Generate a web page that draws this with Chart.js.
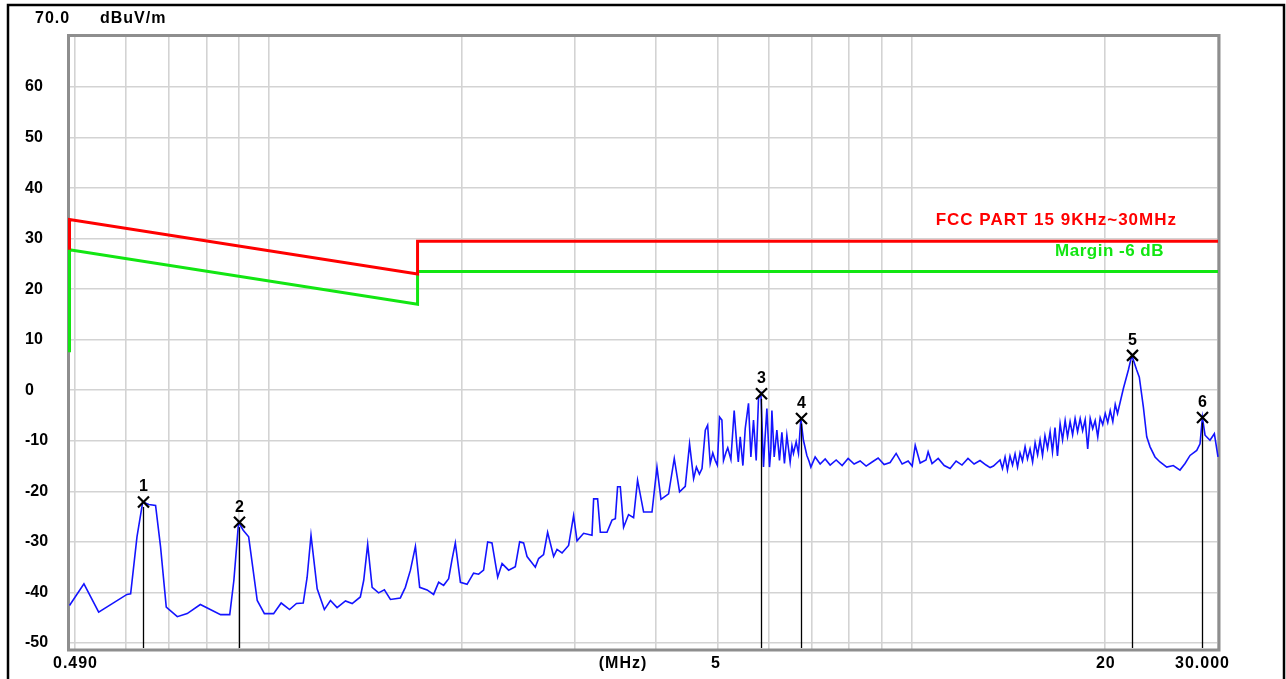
<!DOCTYPE html>
<html>
<head>
<meta charset="utf-8">
<script src="https://cdn.jsdelivr.net/npm/chart.js@4.4.1/dist/chart.umd.min.js"></script>
<style>
  html, body { margin: 0; padding: 0; background: #fff; overflow: hidden; }
  canvas { display: block; }
</style>
</head>
<body>
<canvas id="emi" width="1286" height="679"></canvas>
<script>
// Measured emission trace, frequency in MHz and level in dBuV/m
const freqMHz = [
  0.490, 0.516, 0.544, 0.602, 0.610, 0.624, 0.637, 0.651, 0.667, 0.679,
  0.693, 0.721, 0.747, 0.783, 0.842, 0.870, 0.883, 0.898, 0.913, 0.931,
  0.960, 0.985, 1.018, 1.046, 1.078, 1.105, 1.132, 1.148, 1.164, 1.190,
  1.221, 1.248, 1.278, 1.317, 1.349, 1.389, 1.406, 1.426, 1.449, 1.483,
  1.514, 1.547, 1.603, 1.632, 1.662, 1.692, 1.718, 1.764, 1.806, 1.839,
  1.872, 1.906, 1.929, 1.952, 1.988, 2.036, 2.084, 2.122, 2.160, 2.192,
  2.226, 2.272, 2.308, 2.363, 2.420, 2.458, 2.493, 2.524, 2.600, 2.631,
  2.678, 2.717, 2.776, 2.810, 2.861, 2.929, 2.982, 3.019, 3.091, 3.185,
  3.204, 3.250, 3.282, 3.361, 3.422, 3.463, 3.491, 3.525, 3.567, 3.631,
  3.697, 3.750, 3.832, 3.949, 4.020, 4.078, 4.191, 4.277, 4.359, 4.449,
  4.518, 4.584, 4.630, 4.680, 4.724, 4.780, 4.820, 4.865, 4.910, 4.953,
  4.990, 5.030, 5.073, 5.102, 5.150, 5.180, 5.239, 5.301, 5.353, 5.380,
  5.417, 5.469, 5.515, 5.580, 5.628, 5.681, 5.736, 5.784, 5.834, 5.888,
  5.920, 5.960, 6.016, 6.045, 6.068, 6.118, 6.177, 6.235, 6.289, 6.347,
  6.402, 6.478, 6.520, 6.555, 6.619, 6.674, 6.731, 6.794, 6.878, 6.930,
  6.977, 7.085, 7.213, 7.344, 7.476, 7.639, 7.805, 7.974, 8.147, 8.324,
  8.505, 8.690, 8.878, 9.071, 9.268, 9.470, 9.676, 9.886, 10.03, 10.14,
  10.32, 10.54, 10.62, 10.77, 11.01, 11.25, 11.49, 11.74, 11.99, 12.25,
  12.52, 12.79, 13.07, 13.26, 13.42, 13.74, 13.86, 13.99, 14.11, 14.24,
  14.37, 14.50, 14.63, 14.76, 14.89, 15.03, 15.16, 15.30, 15.44, 15.58,
  15.72, 15.86, 16.00, 16.14, 16.29, 16.44, 16.58, 16.73, 16.88, 17.04,
  17.19, 17.35, 17.50, 17.66, 17.82, 17.98, 18.14, 18.31, 18.47, 18.64,
  18.81, 18.98, 19.15, 19.32, 19.50, 19.67, 19.85, 20.03, 20.21, 20.39,
  20.58, 20.76, 20.93, 21.37, 21.76, 22.03, 22.42, 22.63, 22.96, 23.24,
  23.52, 23.94, 24.37, 24.97, 25.56, 26.18, 26.66, 27.14, 27.80, 28.13,
  28.37, 28.64, 29.15, 29.61, 30.00
];
const levelDb = [
  -42.6, -38.3, -43.9, -40.4, -40.3, -29.0, -22.1, -22.6, -22.8, -31.0,
  -42.9, -44.8, -44.2, -42.4, -44.4, -44.4, -37.6, -26.1, -27.7, -29.0,
  -41.6, -44.2, -44.2, -42.1, -43.4, -42.2, -42.1, -37.0, -28.7, -39.3,
  -43.4, -41.6, -43.0, -41.7, -42.2, -40.9, -37.6, -30.5, -39.0, -40.1,
  -39.5, -41.4, -41.1, -39.0, -35.6, -30.9, -39.0, -39.5, -40.4, -38.0,
  -38.6, -37.3, -33.5, -30.2, -38.0, -38.4, -36.2, -36.4, -35.6, -30.0,
  -30.2, -37.0, -34.3, -35.6, -34.9, -30.0, -30.2, -32.9, -35.0, -33.3,
  -32.5, -28.1, -32.9, -31.5, -32.2, -30.7, -24.8, -29.8, -28.3, -28.7,
  -21.5, -21.5, -28.1, -28.1, -25.7, -25.4, -19.1, -19.1, -27.1, -24.6,
  -25.2, -17.8, -24.1, -24.1, -15.2, -21.6, -20.5, -13.5, -20.1, -19.0,
  -10.6, -17.5, -15.2, -16.6, -15.5, -7.9, -6.9, -14.5, -12.4, -13.9,
  -14.8, -5.3, -5.9, -13.9, -12.2, -11.4, -13.7, -4.0, -11.2, -14.2,
  -9.2, -14.9, -7.6, -2.6, -13.2, -5.9, -13.9, -1.6, -0.7, -15.2,
  -9.6, -3.6, -15.2, -11.8, -4.0, -13.2, -7.9, -13.9, -8.3, -14.5,
  -8.9, -14.2, -11.0, -12.5, -10.2, -12.5, -5.6, -9.9, -12.9, -14.0,
  -15.2, -13.2, -14.6, -13.6, -14.8, -13.8, -14.9, -13.5, -14.6, -14.0,
  -15.0, -14.2, -13.4, -14.7, -14.3, -12.5, -14.6, -14.0, -15.0, -10.9,
  -14.4, -13.8, -12.2, -14.5, -13.5, -14.9, -15.5, -14.0, -14.8, -13.5,
  -14.6, -13.9, -14.8, -15.3, -15.0, -13.8, -15.5, -13.2, -15.8, -13.0,
  -14.8, -12.6, -15.2, -12.4, -14.0, -11.2, -13.6, -11.6, -14.2, -10.4,
  -12.8, -9.8, -12.9, -9.0, -11.5, -8.2, -12.2, -7.4, -13.0, -6.6,
  -9.8, -6.0, -9.2, -6.2, -8.8, -5.6, -8.2, -5.6, -8.0, -5.8,
  -11.6, -5.6, -7.6, -6.0, -9.2, -5.4, -6.8, -4.6, -6.4, -4.0,
  -6.2, -2.8, -4.6, 0.3, 4.0, 6.9, 4.0, 2.6, -3.3, -9.2,
  -11.2, -13.2, -14.2, -15.2, -14.9, -15.8, -14.5, -12.9, -11.9, -10.6,
  -5.4, -8.9, -9.9, -8.6, -13.2
];

// FCC Part 15 limit and the -6 dB margin line
const limitFreqMHz = [0.49, 0.49, 1.705, 1.705, 30];
const limitDb      = [27.8, 33.8, 23.0, 29.5, 29.5];
const marginDb     = [7.5, 27.8, 17.0, 23.5, 23.5];

// Peak markers
const markerFreqMHz = [0.637, 0.898, 5.834, 6.731, 22.03, 28.37];
const markerDb      = [-22.1, -26.1, -0.7, -5.6, 6.9, -5.4];
const markerNames   = ['1', '2', '3', '4', '5', '6'];

// Axis ticks and labels
const yTickValues = [-50, -40, -30, -20, -10, 0, 10, 20, 30, 40, 50, 60];
const xGridMHz = [0.5, 0.6, 0.7, 0.8, 0.9, 1, 2, 3, 4, 5, 6, 7, 8, 9, 10, 20, 30];
const xLabelValues = [0.49, 5, 20, 30];
const xLabelTexts = ['0.490', '5', '20', '30.000'];
const unitText = 'dBuV/m';
const topValueText = '70.0';
const freqUnitText = '(MHz)';
const limitName = 'FCC PART 15 9KHz~30MHz';
const marginName = 'Margin -6 dB';

const FONT = '"Liberation Sans", Arimo, Arial, sans-serif';
const toXY = (xs, ys) => xs.map((v, i) => ({ x: v, y: ys[i] }));

const decor = {
  id: 'decor',
  beforeDraw(chart) {
    const ctx = chart.ctx;
    ctx.save();
    ctx.fillStyle = '#ffffff';
    ctx.fillRect(0, 0, chart.width, chart.height);
    ctx.restore();
  },
  beforeDatasetsDraw(chart) {
    const { ctx, chartArea: a } = chart;
    // gray plot frame, under the traces
    ctx.save();
    ctx.strokeStyle = '#8e8e8e';
    ctx.lineWidth = 3;
    ctx.strokeRect(a.left - 1, a.top - 1, a.right - a.left + 2, a.bottom - a.top + 2);
    ctx.restore();
  },
  afterDatasetsDraw(chart) {
    const { ctx, chartArea: a, scales: { x, y } } = chart;
    ctx.save();
    // markers: drop line, cross and number
    ctx.strokeStyle = '#000';
    ctx.fillStyle = '#000';
    markerFreqMHz.forEach((f, i) => {
      const px = Math.round(x.getPixelForValue(f)) + 0.5;
      const py = y.getPixelForValue(markerDb[i]);
      ctx.lineWidth = 1.3;
      ctx.beginPath();
      ctx.moveTo(px, py + 5);
      ctx.lineTo(px, a.bottom - 1);
      ctx.stroke();
      ctx.lineWidth = 2.2;
      ctx.beginPath();
      ctx.moveTo(px - 5.5, py - 5.5); ctx.lineTo(px + 5.5, py + 5.5);
      ctx.moveTo(px + 5.5, py - 5.5); ctx.lineTo(px - 5.5, py + 5.5);
      ctx.stroke();
      ctx.font = 'bold 16px ' + FONT;
      ctx.textAlign = 'center';
      ctx.textBaseline = 'middle';
      ctx.fillText(markerNames[i], px, py - 15);
    });
    ctx.restore();
  },
  afterDraw(chart) {
    const { ctx, scales: { x } } = chart;
    ctx.save();
    // outer black border
    ctx.strokeStyle = '#000';
    ctx.lineWidth = 2.5;
    ctx.strokeRect(8, 5, 1276, 690);

    ctx.fillStyle = '#000';
    ctx.textBaseline = 'middle';
    ctx.font = 'bold 16px ' + FONT;
    ctx.letterSpacing = '1px';
    ctx.textAlign = 'left';
    ctx.fillText(topValueText, 35, 19);
    ctx.fillText(unitText, 100, 19);

    // frequency axis labels
    const ly = 664;
    ctx.textAlign = 'center';
    ctx.fillText(xLabelTexts[0], x.getPixelForValue(xLabelValues[0]) + 6, ly);
    ctx.fillText(xLabelTexts[1], x.getPixelForValue(xLabelValues[1]) - 2, ly);
    ctx.fillText(xLabelTexts[2], x.getPixelForValue(xLabelValues[2]) + 1, ly);
    ctx.textAlign = 'right';
    ctx.fillText(xLabelTexts[3], x.getPixelForValue(xLabelValues[3]) + 12, ly);
    ctx.textAlign = 'center';
    ctx.fillText(freqUnitText, 623, ly);

    // limit line captions
    ctx.textAlign = 'right';
    ctx.font = 'bold 17px ' + FONT;
    ctx.fillStyle = '#ff0000';
    ctx.fillText(limitName, 1177, 220);
    ctx.letterSpacing = '0.5px';
    ctx.fillStyle = '#12e612';
    ctx.fillText(marginName, 1164, 251);
    ctx.restore();
  }
};

new Chart(document.getElementById('emi'), {
  type: 'line',
  data: {
    datasets: [
      {
        data: toXY(limitFreqMHz, limitDb),
        borderColor: '#ff0000', borderWidth: 3, pointRadius: 0,
        borderJoinStyle: 'miter', tension: 0, clip: 6
      },
      {
        data: toXY(limitFreqMHz, marginDb),
        borderColor: '#12e612', borderWidth: 3, pointRadius: 0,
        borderJoinStyle: 'miter', tension: 0, clip: 6
      },
      {
        data: toXY(freqMHz, levelDb),
        borderColor: '#1414ff', borderWidth: 1.6, pointRadius: 0,
        tension: 0, clip: 2
      }
    ]
  },
  options: {
    responsive: false,
    devicePixelRatio: 1,
    animation: false,
    events: [],
    layout: { padding: { left: 25, right: 68, top: 36.5, bottom: 30 } },
    plugins: { legend: { display: false }, tooltip: { enabled: false } },
    scales: {
      x: {
        type: 'logarithmic',
        min: 0.49, max: 30,
        afterBuildTicks: s => { s.ticks = xGridMHz.map(v => ({ value: v })); },
        afterFit: s => { s.height = 0; },
        ticks: { display: false },
        grid: { color: '#d3d3d3', lineWidth: 1.6, drawTicks: false },
        border: { display: false }
      },
      y: {
        type: 'linear',
        min: -51.2, max: 70,
        afterBuildTicks: s => { s.ticks = yTickValues.map(v => ({ value: v })); },
        afterFit: s => { s.width = 44.5; },
        ticks: {
          crossAlign: 'far',
          color: '#000',
          font: { family: FONT, size: 16, weight: 'bold' },
          callback: v => String(v)
        },
        grid: { color: '#d3d3d3', lineWidth: 1.6, drawTicks: false },
        border: { display: false }
      }
    }
  },
  plugins: [decor]
});
</script>
</body>
</html>
